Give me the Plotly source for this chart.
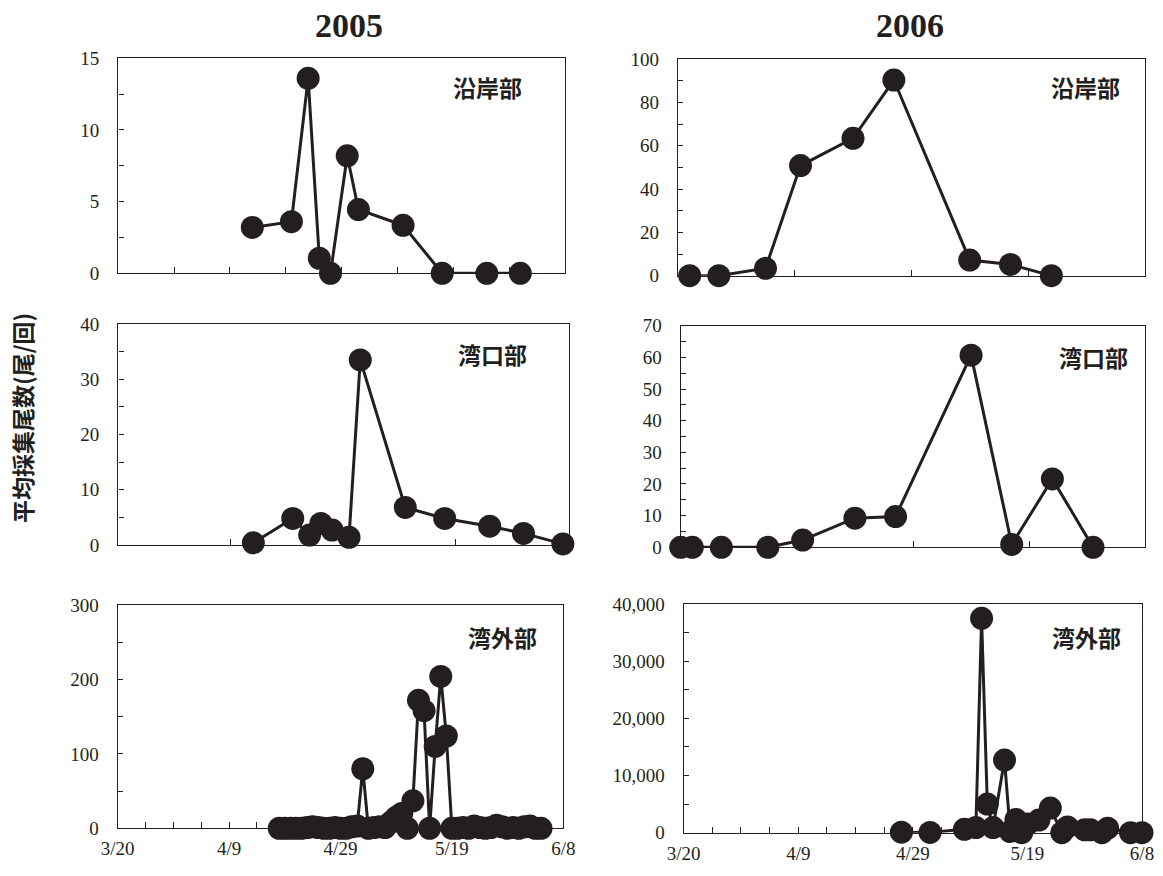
import plotly.graph_objects as go

# ---------------- data ----------------
# 2005 沿岸部
d05_coast = ["2005-04-13", "2005-04-20", "2005-04-23", "2005-04-25", "2005-04-27", "2005-04-30",
             "2005-05-02", "2005-05-10", "2005-05-17", "2005-05-25", "2005-05-31"]
v05_coast = [3.2, 3.6, 13.6, 1.05, 0.0, 8.2, 4.45, 3.35, 0.0, 0.0, 0.0]

# 2005 湾口部
d05_mouth = ["2005-04-13", "2005-04-20", "2005-04-23", "2005-04-25", "2005-04-27", "2005-04-30",
             "2005-05-02", "2005-05-10", "2005-05-17", "2005-05-25", "2005-05-31", "2005-06-07"]
v05_mouth = [0.4, 4.8, 1.8, 3.9, 2.7, 1.4, 33.5, 6.8, 4.8, 3.4, 2.1, 0.2]

# 2005 湾外部
d05_outer = ["2005-04-18", "2005-04-19", "2005-04-20", "2005-04-21", "2005-04-22", "2005-04-23",
             "2005-04-24", "2005-04-25", "2005-04-26", "2005-04-27", "2005-04-28", "2005-04-29",
             "2005-04-30", "2005-05-01", "2005-05-02", "2005-05-03", "2005-05-04", "2005-05-05",
             "2005-05-06", "2005-05-07", "2005-05-08", "2005-05-09", "2005-05-10", "2005-05-11",
             "2005-05-12", "2005-05-13", "2005-05-14", "2005-05-15", "2005-05-16", "2005-05-17",
             "2005-05-18", "2005-05-19", "2005-05-20", "2005-05-21", "2005-05-22", "2005-05-23",
             "2005-05-24", "2005-05-25", "2005-05-26", "2005-05-27", "2005-05-28", "2005-05-29",
             "2005-05-30", "2005-05-31", "2005-06-01", "2005-06-02", "2005-06-03", "2005-06-04"]
v05_outer = [0, 0, 0, 0, 0, 1, 2, 1, 0, 0, 1, 0,
             0, 2, 3, 80, 0, 1, 2, 1, 8, 15, 20, 0,
             37, 172, 158, 0, 110, 204, 124, 0, 0, 1, 0, 3,
             1, 0, 1, 4, 2, 0, 1, 0, 2, 3, 0, 0]

# 2006 沿岸部
d06_coast = ["2006-03-22", "2006-03-27", "2006-04-04", "2006-04-10", "2006-04-19", "2006-04-26",
             "2006-05-09", "2006-05-16", "2006-05-23"]
v06_coast = [0.0, 0.0, 3.4, 50.8, 63.4, 90.3, 7.2, 5.2, 0.0]

# 2006 湾口部
d06_mouth = ["2006-03-20", "2006-03-22", "2006-03-27", "2006-04-04", "2006-04-10", "2006-04-19",
             "2006-04-26", "2006-05-09", "2006-05-16", "2006-05-23", "2006-05-30"]
v06_mouth = [0.0, 0.0, 0.0, 0.0, 2.3, 9.2, 9.7, 60.7, 0.9, 21.6, 0.0]

# 2006 湾外部
d06_outer = ["2006-04-27", "2006-05-02", "2006-05-08", "2006-05-10", "2006-05-11", "2006-05-12",
             "2006-05-13", "2006-05-15", "2006-05-16", "2006-05-17", "2006-05-18", "2006-05-19",
             "2006-05-21", "2006-05-23", "2006-05-25", "2006-05-26", "2006-05-29", "2006-05-30",
             "2006-06-01", "2006-06-02", "2006-06-06", "2006-06-08"]
v06_outer = [100, 50, 600, 900, 37500, 5000, 900, 12700, 200, 2300, 0, 1500,
             2200, 4300, 0, 1000, 500, 500, 0, 800, 0, 0]

region_labels = ["沿岸部", "湾口部", "湾外部"]
year_titles = ["2005", "2006"]
y_title = "平均採集尾数(尾/回)"

# ---------------- layout geometry (target page pixels) ----------------
PAGE_W, PAGE_H = 1163, 876
OFF = 8                      # default page body margin
W, H = PAGE_W - OFF, PAGE_H - OFF
DAY = 86400000
INK = "#231f20"
SERIF = "Liberation Serif, Times New Roman, serif"
SANS_JP = "Noto Sans CJK JP, sans-serif"


def fx(px):
    return (px - OFF) / W


def fy(py):
    return 1 - (py - OFF) / H


panels = [
    # (dates, values, x0, x1, ytop, ybot, ymax, ymajor, yminor, xmajor_days, bottom, year, label, labelpos)
    (d05_coast, v05_coast, 118.3, 565.0, 58.3, 273.3, 15, 5, 2.5, 10, False, "2005", region_labels[0], (487, 87)),
    (d05_mouth, v05_mouth, 118.3, 568.5, 324.0, 545.0, 40, 10, 5, 20, False, "2005", region_labels[1], (492, 354)),
    (d05_outer, v05_outer, 117.7, 563.3, 605.0, 828.3, 300, 100, 50, 20, True, "2005", region_labels[2], (502, 637)),
    (d06_coast, v06_coast, 678.0, 1144.7, 59.0, 275.7, 100, 20, 10, 20, False, "2006", region_labels[0], (1085, 87)),
    (d06_mouth, v06_mouth, 680.7, 1145.3, 325.7, 547.3, 70, 10, 5, 20, False, "2006", region_labels[1], (1093, 357)),
    (d06_outer, v06_outer, 683.7, 1142.0, 604.0, 832.7, 40000, 10000, 5000, 20, True, "2006", region_labels[2], (1086, 637)),
]

fig = go.Figure()
annotations = []
for i, (dates, vals, x0, x1, yt, yb, ymax, ymaj, ymin, xmaj, bottom, yr, lab, lp) in enumerate(panels):
    n = i + 1
    xa = "x" if n == 1 else f"x{n}"
    ya = "y" if n == 1 else f"y{n}"
    fig.add_trace(go.Scatter(
        x=dates, y=vals, mode="lines+markers", xaxis=xa, yaxis=ya,
        line=dict(color=INK, width=3),
        marker=dict(color=INK, size=23, line=dict(width=0)),
        cliponaxis=False, showlegend=False, hoverinfo="skip",
    ))
    start = f"{yr}-03-20"
    end = f"{yr}-06-08"
    xkey = "xaxis" if n == 1 else f"xaxis{n}"
    ykey = "yaxis" if n == 1 else f"yaxis{n}"
    xaxis = dict(
        domain=[fx(x0), fx(x1)], anchor=ya, type="date",
        range=[start, end], autorange=False, automargin=False,
        showline=True, linecolor=INK, linewidth=1.4, mirror=True,
        showgrid=False, zeroline=False, layer="below traces",
        ticks="inside", ticklen=6, tickwidth=1.2, tickcolor=INK,
        tick0=start, dtick=xmaj * DAY,
        showticklabels=bottom, tickformat="%-m/%-d",
        tickfont=dict(family=SERIF, size=19, color=INK),
        ticklabelstandoff=3,
    )
    if bottom:
        xaxis["minor"] = dict(ticks="inside", ticklen=6, tickwidth=1.2, tickcolor=INK,
                              dtick=5 * DAY, tick0=start, showgrid=False)
    yaxis = dict(
        domain=[fy(yb), fy(yt)], anchor=xa,
        range=[0, ymax], autorange=False, automargin=False,
        showline=True, linecolor=INK, linewidth=1.4, mirror=True,
        showgrid=False, zeroline=False, layer="below traces",
        ticks="inside", ticklen=5, tickwidth=1.2, tickcolor=INK,
        tick0=0, dtick=ymaj,
        minor=dict(ticks="inside", ticklen=5, tickwidth=1.2, tickcolor=INK, dtick=ymin, showgrid=False),
        tickformat=",d",
        tickfont=dict(family=SERIF, size=19, color=INK),
        ticklabelstandoff=14,
    )
    fig.update_layout(**{xkey: xaxis, ykey: yaxis})
    annotations.append(dict(
        text=f"<b>{lab}</b>", x=fx(lp[0]), y=fy(lp[1]), xref="paper", yref="paper",
        showarrow=False, xanchor="center", yanchor="middle",
        font=dict(family=SANS_JP, size=23, color=INK),
    ))

for title, cx in zip(year_titles, [349, 910]):
    annotations.append(dict(text=f"<b>{title}</b>", x=fx(cx), y=fy(25), xref="paper", yref="paper",
                            showarrow=False, xanchor="center", yanchor="middle",
                            font=dict(family=SERIF, size=34, color=INK)))
annotations.append(dict(text=f"<b>{y_title}</b>", x=fx(22), y=fy(418), xref="paper", yref="paper",
                        showarrow=False, xanchor="center", yanchor="middle", textangle=-90,
                        font=dict(family=SANS_JP, size=23, color=INK)))

fig.update_layout(
    width=W, height=H, margin=dict(l=0, r=0, t=0, b=0, pad=0, autoexpand=False),
    paper_bgcolor="white", plot_bgcolor="white",
    annotations=annotations, showlegend=False,
)

fig.write_html("out.html")
